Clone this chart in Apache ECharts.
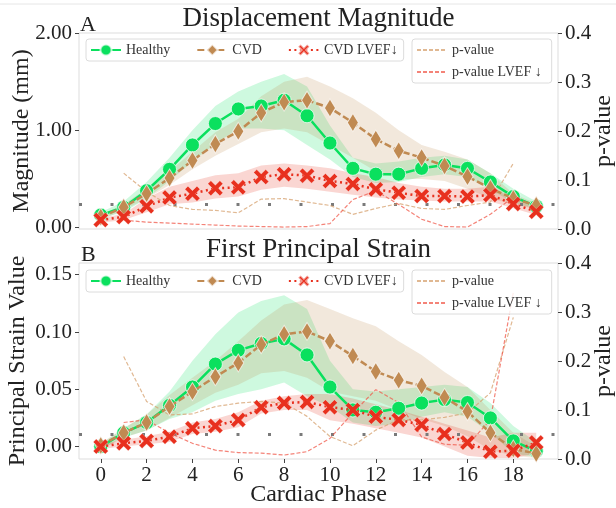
<!DOCTYPE html>
<html><head><meta charset="utf-8">
<script src="https://cdn.jsdelivr.net/npm/echarts@6/dist/echarts.min.js"></script>
<style>html,body{margin:0;padding:0;background:#fff}#c{width:616px;height:508px}</style>
</head><body><div id="c"></div>
<script>
const phases = [0,1,2,3,4,5,6,7,8,9,10,11,12,13,14,15,16,17,18,19];
const xTickLabels = [0,2,4,6,8,10,12,14,16,18];

// Panel A: displacement magnitude (mm)
const dispHealthy = [0.13,0.21,0.38,0.60,0.85,1.07,1.22,1.25,1.31,1.15,0.87,0.61,0.55,0.55,0.61,0.645,0.61,0.47,0.32,0.22];
const dispHealthyHi = [0.16,0.27,0.47,0.72,1.00,1.25,1.40,1.50,1.58,1.45,1.05,0.72,0.66,0.68,0.72,0.74,0.70,0.56,0.40,0.27];
const dispHealthyLo = [0.10,0.16,0.30,0.48,0.68,0.86,1.02,1.02,1.00,0.85,0.70,0.52,0.46,0.47,0.52,0.55,0.52,0.39,0.26,0.19];
const dispCVD = [0.11,0.21,0.35,0.51,0.69,0.86,0.99,1.18,1.29,1.31,1.23,1.08,0.91,0.79,0.72,0.635,0.525,0.405,0.30,0.23];
const dispCVDHi = [0.13,0.24,0.40,0.58,0.78,0.98,1.12,1.35,1.50,1.55,1.45,1.33,1.18,1.00,0.85,0.78,0.70,0.56,0.35,0.25];
const dispCVDLo = [0.08,0.18,0.30,0.44,0.60,0.74,0.86,0.98,1.02,0.98,0.85,0.72,0.58,0.50,0.50,0.48,0.40,0.30,0.24,0.19];
const dispLVEF = [0.08,0.11,0.22,0.31,0.35,0.405,0.415,0.52,0.55,0.535,0.48,0.45,0.395,0.36,0.325,0.325,0.32,0.335,0.245,0.165];
const dispLVEFHi = [0.10,0.14,0.30,0.42,0.48,0.54,0.56,0.64,0.66,0.64,0.61,0.56,0.52,0.46,0.42,0.40,0.40,0.42,0.30,0.21];
const dispLVEFLo = [0.05,0.08,0.16,0.24,0.26,0.30,0.32,0.39,0.42,0.40,0.37,0.34,0.31,0.29,0.28,0.27,0.27,0.27,0.20,0.13];
const dispP = [null,0.114,0.076,0.048,0.040,0.038,0.033,0.061,0.062,0.055,0.048,0.030,0.042,0.052,0.042,0.040,0.048,0.055,0.134,null];
const dispPLVEF = [null,0.018,0.014,0.012,0.010,0.008,0.006,0.005,0.004,0.005,0.011,0.060,0.078,0.050,0.020,0.005,0.004,0.030,0.065,null];

// Panel B: first principal strain
const strHealthy = [0.000,0.012,0.021,0.036,0.052,0.072,0.084,0.090,0.094,0.080,0.052,0.032,0.030,0.0335,0.038,0.041,0.0385,0.025,0.005,-0.004];
const strHealthyHi = [0.002,0.016,0.028,0.048,0.075,0.098,0.117,0.127,0.132,0.120,0.075,0.050,0.048,0.050,0.052,0.054,0.052,0.038,0.018,0.004];
const strHealthyLo = [-0.002,0.008,0.014,0.024,0.030,0.040,0.046,0.050,0.056,0.044,0.035,0.021,0.018,0.020,0.026,0.030,0.026,0.012,-0.006,-0.009];
const strCVD = [0.001,0.012,0.021,0.035,0.048,0.061,0.073,0.089,0.098,0.1005,0.092,0.079,0.0656,0.058,0.053,0.043,0.0306,0.012,-0.002,-0.006];
const strCVDHi = [0.003,0.016,0.028,0.045,0.060,0.075,0.092,0.110,0.124,0.128,0.120,0.112,0.105,0.092,0.080,0.065,0.052,0.032,0.012,0.000];
const strCVDLo = [-0.003,0.008,0.014,0.025,0.036,0.047,0.054,0.064,0.066,0.060,0.048,0.044,0.040,0.032,0.024,0.018,0.009,-0.003,-0.008,-0.010];
const strLVEF = [0.000,0.003,0.005,0.0087,0.016,0.018,0.0233,0.0344,0.038,0.039,0.0344,0.032,0.026,0.0233,0.019,0.011,0.0035,-0.0044,-0.0035,0.0035];
const strLVEFHi = [0.002,0.006,0.009,0.013,0.021,0.024,0.030,0.040,0.044,0.046,0.046,0.042,0.037,0.032,0.026,0.020,0.014,0.008,0.012,0.012];
const strLVEFLo = [-0.002,0.000,0.002,0.004,0.011,0.013,0.017,0.029,0.032,0.032,0.023,0.020,0.016,0.012,0.008,0.000,-0.008,-0.010,-0.010,-0.006];
const strP = [null,0.209,0.1175,0.090,0.092,0.107,0.114,0.1175,0.114,0.087,0.046,0.027,0.059,0.080,0.080,0.085,0.094,0.135,0.289,null];
const strPLVEF = [null,0.0745,0.080,0.053,0.032,0.018,0.013,0.012,0.008,0.015,0.042,0.094,0.1415,0.115,0.045,0.030,0.028,0.080,0.340,null];

const pThreshold = 0.05;

const GREEN = '#0ae05e', TAN = '#c08a52', RED = '#e8301e';
const PTAN = 'rgba(214,160,110,0.75)', PRED = 'rgba(240,90,75,0.75)';
const FONT = 'Liberation Serif';
const XPATH = 'path://M2,0 L5,3 L8,0 L10,2 L7,5 L10,8 L8,10 L5,7 L2,10 L0,8 L3,5 L0,2 Z';

function pairs(arr){ return phases.map((p,i)=>[p, arr[i]]); }
function band(name, lo, hi, color, gi){
  return {
    type:'custom', name: name, xAxisIndex: gi, yAxisIndex: gi*2, silent:true, clip:true, z:1,
    data: phases.map((p,i)=>[p, lo[i], hi[i]]),
    encode:{x:0, y:[1,2]},
    renderItem: function(params, api){
      if (params.dataIndex !== 0) return null;
      const pts = [];
      for (let i=0;i<phases.length;i++) pts.push(api.coord([phases[i], hi[i]]));
      for (let i=phases.length-1;i>=0;i--) pts.push(api.coord([phases[i], lo[i]]));
      return {type:'polygon', shape:{points:pts}, style:{fill:color}};
    }
  };
}
function mainSeries(gi, h, c, l){
  return [
    {type:'line', name:'Healthy', xAxisIndex:gi, yAxisIndex:gi*2, data:pairs(h), z:6,
     symbol:'circle', symbolSize:14, itemStyle:{color:GREEN, borderColor:'rgba(255,255,255,0.7)', borderWidth:1},
     lineStyle:{color:GREEN, width:2.5}},
    {type:'line', name:'CVD', xAxisIndex:gi, yAxisIndex:gi*2, data:pairs(c), z:7,
     symbol:'diamond', symbolSize:[11,18], itemStyle:{color:TAN, borderColor:'rgba(255,255,255,0.7)', borderWidth:1},
     lineStyle:{color:TAN, width:2.5, type:[7,3]}},
    {type:'line', name:'CVD LVEF\u2193', xAxisIndex:gi, yAxisIndex:gi*2, data:pairs(l), z:8,
     symbol:XPATH, symbolSize:15, itemStyle:{color:RED, borderColor:'rgba(255,255,255,0.5)', borderWidth:0.5},
     lineStyle:{color:RED, width:2.5, type:[2,3.5]}}
  ];
}
function pSeries(gi, p, pl){
  return [
    {type:'line', name:'p-value', xAxisIndex:gi, yAxisIndex:gi*2+1, data:pairs(p), z:3, symbol:'none',
     itemStyle:{color:PTAN}, lineStyle:{color:PTAN, width:1.2, type:[4,2]}, connectNulls:false},
    {type:'line', name:'p-value LVEF \u2193', xAxisIndex:gi, yAxisIndex:gi*2+1, data:pairs(pl), z:3, symbol:'none',
     itemStyle:{color:PRED}, lineStyle:{color:PRED, width:1.2, type:[4,2]}, connectNulls:false},
    {type:'line', name:'thr', xAxisIndex:gi, yAxisIndex:gi*2+1, data:[[-0.95,pThreshold],[19.95,pThreshold]], z:2,
     symbol:'none', silent:true, lineStyle:{color:'#7a7a7a', width:3, type:[3,28.5], cap:'butt'}}
  ];
}

const axisLabelStyle = {color:'#222', fontFamily:FONT, fontSize:21};
function xAxis(gi, showLabels){
  return {type:'value', gridIndex:gi, min:-0.95, max:19.95,
    axisLine:{show:false, onZero:false}, splitLine:{show:false},
    axisTick:{show:showLabels, customValues:xTickLabels, length:4, lineStyle:{color:'#444'}},
    axisLabel:{show:showLabels, customValues:xTickLabels, margin:6, ...axisLabelStyle},
    name: showLabels ? 'Cardiac Phase' : '', nameLocation:'middle', nameGap:24, nameMoveOverlap:false,
    nameTextStyle:{color:'#222', fontFamily:FONT, fontSize:24}};
}
function yLeft(gi, min, max, ticks, dec, name, gap){
  return {type:'value', gridIndex:gi, min:min, max:max, position:'left',
    axisLine:{show:false, onZero:false}, splitLine:{show:false},
    axisTick:{show:true, customValues:ticks, length:4, lineStyle:{color:'#444'}},
    axisLabel:{customValues:ticks, margin:7, formatter:v=>Number(v).toFixed(dec), ...axisLabelStyle},
    name:name, nameLocation:'middle', nameGap:gap, nameRotate:90, nameMoveOverlap:false,
    nameTextStyle:{color:'#222', fontFamily:FONT, fontSize:24}};
}
function yRight(gi){
  return {type:'value', gridIndex:gi, min:0, max:0.4, interval:0.1, position:'right',
    axisLine:{show:false, onZero:false}, splitLine:{show:false},
    axisTick:{show:true, length:4, lineStyle:{color:'#444'}},
    axisLabel:{margin:7, formatter:v=>Number(v).toFixed(1), ...axisLabelStyle},
    name:'p-value', nameLocation:'middle', nameGap:34, nameRotate:90, nameMoveOverlap:false,
    nameTextStyle:{color:'#222', fontFamily:FONT, fontSize:24}};
}
function legends(top){
  const common = {backgroundColor:'rgba(255,255,255,0.85)', borderColor:'#dcdcdc', borderWidth:1, borderRadius:3,
    textStyle:{fontFamily:FONT, fontSize:14, color:'#333'}, itemWidth:30, itemHeight:14, selectedMode:false};
  return [
    {...common, left:86, top:top, orient:'horizontal', itemGap:26, padding:[4,6,4,4],
      data:['Healthy','CVD','CVD LVEF\u2193']},
    {...common, left:412, top:top, orient:'vertical', itemGap:8, padding:[4,10,4,4],
      data:[{name:'p-value', itemStyle:{opacity:0}}, {name:'p-value LVEF \u2193', itemStyle:{opacity:0}}]}
  ];
}
const topLeft = 79, gW = 479, gH = 196;
const grids = [
  {left:topLeft, top:33, width:gW, height:gH, show:true, borderColor:'#dddddd', borderWidth:1, backgroundColor:'transparent', containLabel:false, outerBoundsMode:'none'},
  {left:topLeft, top:263, width:gW, height:gH, show:true, borderColor:'#dddddd', borderWidth:1, backgroundColor:'transparent', containLabel:false, outerBoundsMode:'none'}
];
function txt(text, x, y, size, align){
  return {type:'text', x:x, y:y, z:100, style:{text:text, fontFamily:FONT, fontSize:size, fill:'#222',
    align:align, verticalAlign:'middle', textAlign:align, textVerticalAlign:'middle'}};
}

const option = {
  animation:false,
  backgroundColor:'#fff',
  grid: grids,
  xAxis:[xAxis(0,false), xAxis(1,true)],
  yAxis:[
    yLeft(0, -0.013, 2.0, [0,1,2], 2, 'Magnitude (mm)', 45), yRight(0),
    yLeft(1, -0.0108, 0.1602, [0,0.05,0.10,0.15], 2, 'Principal Strain Value', 49), yRight(1)
  ],
  legend: [...legends(39), ...legends(270)],
  graphic:[
    {type:'line', shape:{x1:0,y1:4,x2:616,y2:4}, style:{stroke:'#e6e6e6', lineWidth:1}},
    txt('Displacement Magnitude', 318.5, 19, 27, 'center'),
    txt('A', 80, 25, 22, 'left'),
    txt('First Principal Strain', 318.5, 250, 27, 'center'),
    txt('B', 81, 255, 22, 'left')
  ],
  series:[
    band('bh0', dispHealthyLo, dispHealthyHi, 'rgba(10,224,94,0.2)', 0),
    band('bc0', dispCVDLo, dispCVDHi, 'rgba(192,138,82,0.2)', 0),
    band('bl0', dispLVEFLo, dispLVEFHi, 'rgba(232,48,30,0.2)', 0),
    ...pSeries(0, dispP, dispPLVEF),
    ...mainSeries(0, dispHealthy, dispCVD, dispLVEF),
    band('bh1', strHealthyLo, strHealthyHi, 'rgba(10,224,94,0.2)', 1),
    band('bc1', strCVDLo, strCVDHi, 'rgba(192,138,82,0.2)', 1),
    band('bl1', strLVEFLo, strLVEFHi, 'rgba(232,48,30,0.2)', 1),
    ...pSeries(1, strP, strPLVEF),
    ...mainSeries(1, strHealthy, strCVD, strLVEF)
  ]
};
const chart = echarts.init(document.getElementById('c'), null, {renderer:'canvas'});
chart.setOption(option);
</script></body></html>
